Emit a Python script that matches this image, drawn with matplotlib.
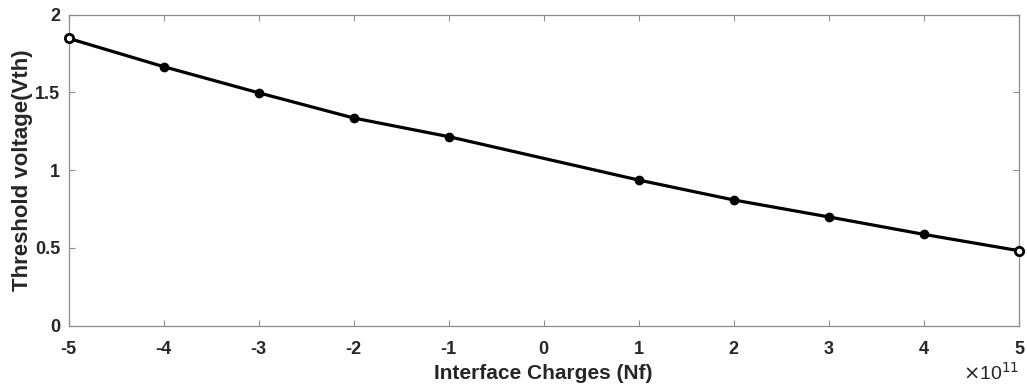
import matplotlib
matplotlib.use('Agg')
import matplotlib.pyplot as plt
import numpy as np

# interface charge (x 1e11) vs threshold voltage
nf = [-5, -4, -3, -2, -1, 1, 2, 3, 4, 5]
vth = [1.847, 1.665, 1.497, 1.335, 1.215, 0.936, 0.808, 0.699, 0.587, 0.482]
x_ticks = [-5, -4, -3, -2, -1, 0, 1, 2, 3, 4, 5]
y_ticks = [0, 0.5, 1, 1.5, 2]
y_labels = ['0', '0.5', '1', '1.5', '2']

plt.rcParams['font.family'] = ['Liberation Sans', 'DejaVu Sans']

fig = plt.figure(figsize=(10.27, 3.86), dpi=100)
ax = fig.add_axes([0.0667, 0.1562, 0.9255, 0.8062])

ax.plot(nf, vth, color='black', linewidth=2.3, marker='o', markersize=6,
        markerfacecolor='black', markeredgecolor='black', zorder=3, clip_on=False)
# end points look hollow in the original
ax.plot([nf[0], nf[-1]], [vth[0], vth[-1]], linestyle='none', marker='o', markersize=6,
        markerfacecolor='white', markeredgecolor='black', markeredgewidth=2, zorder=4, clip_on=False)

ax.set_xlim(-5, 5)
ax.set_ylim(0, 2)
ax.set_xticks(x_ticks)
ax.set_xticklabels([str(t) for t in x_ticks])
ax.set_yticks(y_ticks)
ax.set_yticklabels(y_labels)

for side in ax.spines.values():
    side.set_color('#8c8c8c')
    side.set_linewidth(0.9)
ax.tick_params(direction='in', length=4, width=0.8, color='#8c8c8c',
               top=True, right=True, labelsize=13, labelcolor='#262626', pad=6)
ax.tick_params(axis='x', pad=11)
for lbl in ax.get_xticklabels() + ax.get_yticklabels():
    lbl.set_fontweight('bold')

ax.set_xlabel('Interface Charges (Nf)', fontsize=15, fontweight='bold', color='#262626', labelpad=4)
ax.set_ylabel('Threshold voltage(Vth)', fontsize=16, fontweight='bold', color='#262626', labelpad=1)
ax.yaxis.set_label_coords(-0.037, 0.5)

fig.text(0.992, 0.005, r'$\times$10$^{11}$', ha='right', va='bottom', fontsize=14, color='#262626')

fig.savefig('out.png', dpi=100)
